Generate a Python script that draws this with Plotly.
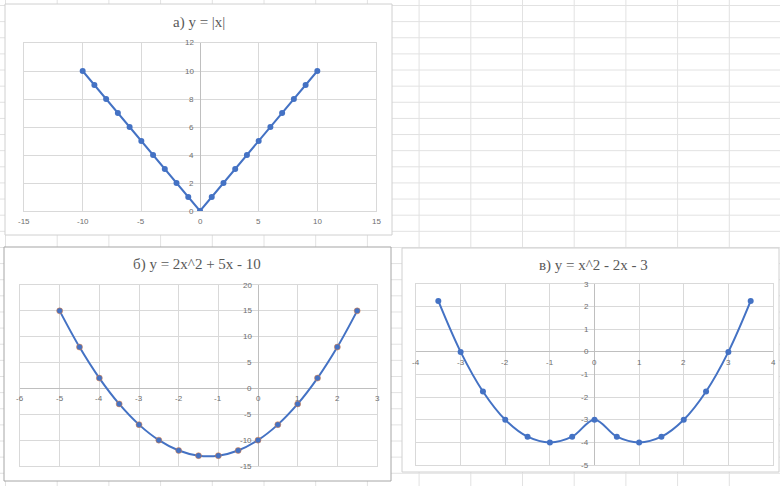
import plotly.graph_objects as go

W, H = 780, 486

# ---- data ----
xa = list(range(-10, 11))
ya = [10, 9, 8, 7, 6, 5, 4, 3, 2, 1, 0, 1, 2, 3, 4, 5, 6, 7, 8, 9, 10]

xb = [-5, -4.5, -4, -3.5, -3, -2.5, -2, -1.5, -1, -0.5, 0, 0.5, 1, 1.5, 2, 2.5]
yb = [15, 8, 2, -3, -7, -10, -12, -13, -13, -12, -10, -7, -3, 2, 8, 15]

xc = [-3.5, -3, -2.5, -2, -1.5, -1, -0.5, 0, 0.5, 1, 1.5, 2, 2.5, 3, 3.5]
yc = [2.25, 0, -1.75, -3, -3.75, -4, -3.75, -3, -3.75, -4, -3.75, -3, -1.75, 0, 2.25]

a_xticks = [-15, -10, -5, 0, 5, 10, 15]
a_yticks = [0, 2, 4, 6, 8, 10, 12]
b_xticks = [-6, -5, -4, -3, -2, -1, 0, 1, 2, 3]
b_yticks = [-15, -10, -5, 0, 5, 10, 15, 20]
c_xticks = [-4, -3, -2, -1, 0, 1, 2, 3, 4]
c_yticks = [-5, -4, -3, -2, -1, 0, 1, 2, 3]

titles = ["а) y = |x|", "б) y = 2x^2 + 5x - 10", "в) y = x^2 - 2x - 3"]

BLUE = "#4472C4"
GRID = "#d9d9d9"
TICKC = "#6e6e6e"


def px_x(p):
    return p / W


def px_y(p):
    return 1 - p / H


fig = go.Figure()

fig.add_trace(go.Scatter(x=xa, y=ya, mode="lines+markers", xaxis="x", yaxis="y",
                         line=dict(color=BLUE, width=2),
                         marker=dict(color=BLUE, size=6), showlegend=False))
fig.add_trace(go.Scatter(x=xb, y=yb, mode="lines+markers", xaxis="x2", yaxis="y2",
                         line=dict(color=BLUE, width=2, shape="spline"),
                         marker=dict(color=BLUE, size=6, line=dict(color="#ED7D31", width=0.5)),
                         showlegend=False))
fig.add_trace(go.Scatter(x=xc, y=yc, mode="lines+markers", xaxis="x3", yaxis="y3",
                         line=dict(color=BLUE, width=2, shape="spline"),
                         marker=dict(color=BLUE, size=6), showlegend=False))


def axis(domain, rng, dtick, anchor):
    return dict(domain=domain, range=rng, dtick=dtick, tick0=0, anchor=anchor,
                showgrid=True, gridcolor=GRID, gridwidth=1,
                zeroline=True, zerolinecolor="#bfbfbf", zerolinewidth=1,
                showline=True, mirror=True, linecolor=GRID, linewidth=1,
                showticklabels=False, ticks="", fixedrange=True)


# plot areas in pixel coordinates (left, right, top, bottom)
pa = (24, 376, 43, 211)
pb = (20, 377, 285, 466)
pc = (416, 773, 284, 465)

layout = dict(
    width=W, height=H, margin=dict(l=0, r=0, t=0, b=0),
    paper_bgcolor="white", plot_bgcolor="rgba(0,0,0,0)",
    xaxis=axis([px_x(pa[0]), px_x(pa[1])], [-15, 15], 5, "y"),
    yaxis=axis([px_y(pa[3]), px_y(pa[2])], [0, 12], 2, "x"),
    xaxis2=axis([px_x(pb[0]), px_x(pb[1])], [-6, 3], 1, "y2"),
    yaxis2=axis([px_y(pb[3]), px_y(pb[2])], [-15, 20], 5, "x2"),
    xaxis3=axis([px_x(pc[0]), px_x(pc[1])], [-4, 4], 1, "y3"),
    yaxis3=axis([px_y(pc[3]), px_y(pc[2])], [-5, 3], 1, "x3"),
)
fig.update_layout(**layout)

# ---- spreadsheet background grid ----
col0, colw = 5.5, 51.7
row0, rowh = 5.5, 16.13
path = ""
c = col0
while c < W:
    path += f"M{px_x(c)},0 L{px_x(c)},1 "
    c += colw
r = row0
while r < H:
    path += f"M0,{px_y(r)} L1,{px_y(r)} "
    r += rowh
shapes = [dict(type="path", path=path, xref="paper", yref="paper",
               line=dict(color="#e2e2e2", width=1), layer="below")]

# chart boxes
boxes = [((5, 392, 4, 235), "#d0d0d0"),
         ((4, 391, 247, 481), "#a6a6a6"),
         ((402, 779, 248, 472), "#d0d0d0")]
for (l, rr, t, b), col in boxes:
    shapes.append(dict(type="rect", xref="paper", yref="paper",
                       x0=px_x(l), x1=px_x(rr), y0=px_y(b), y1=px_y(t),
                       fillcolor="white", line=dict(color=col, width=1), layer="below"))
fig.update_layout(shapes=shapes)

# ---- titles and tick labels ----
ann = []
title_pos = [(199, 23), (197, 264), (593, 265)]
for txt, (tx, ty) in zip(titles, title_pos):
    ann.append(dict(text=txt, x=px_x(tx), y=px_y(ty), xref="paper", yref="paper",
                    showarrow=False, xanchor="center", yanchor="middle",
                    font=dict(family="Liberation Serif", size=15, color="#595959")))

tickfont = dict(family="Liberation Sans", size=8, color=TICKC)
for xs, ys, xr, yr in [(a_xticks, a_yticks, "x", "y"),
                       (b_xticks, b_yticks, "x2", "y2"),
                       (c_xticks, c_yticks, "x3", "y3")]:
    for t in xs:
        ann.append(dict(text=str(t), x=t, y=0, xref=xr, yref=yr, showarrow=False,
                        xanchor="center", yanchor="top", yshift=-4, font=tickfont))
    for t in ys:
        ann.append(dict(text=str(t), x=0, y=t, xref=xr, yref=yr, showarrow=False,
                        xanchor="right", yanchor="middle", xshift=-4, font=tickfont))
fig.update_layout(annotations=ann)

fig.write_html("out.html", config={"displayModeBar": False},
               post_script="document.body.style.margin='0';document.body.style.overflow='hidden';")
